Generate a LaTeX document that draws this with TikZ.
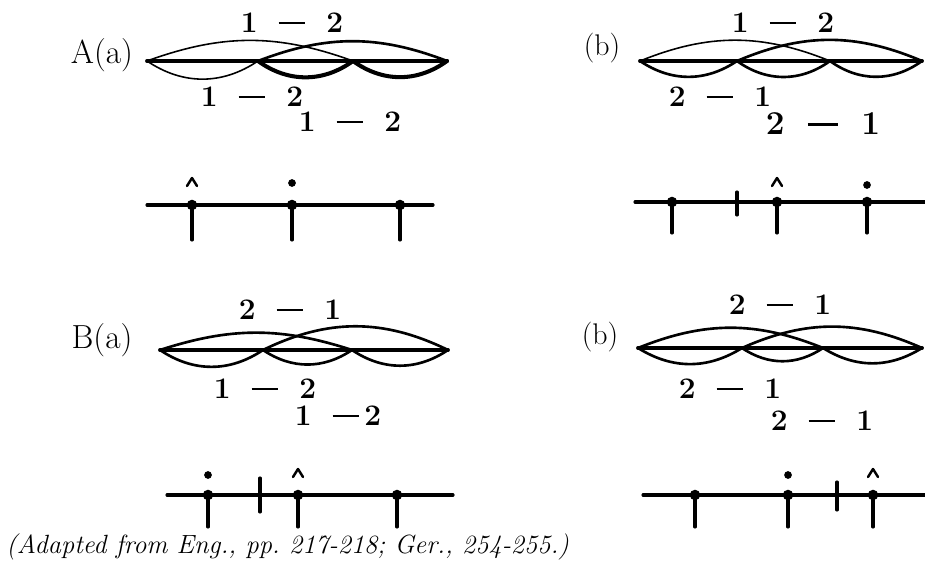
\documentclass[tikz,border=0pt]{standalone}
\usetikzlibrary{positioning}
\newcommand{\lnk}{\hspace{0.7em}\rule[0.28em]{0.9em}{1.6pt}\hspace{0.7em}}

\begin{document}
\begin{tikzpicture}[x=0.02cm, y=-0.02cm, line cap=round, line join=round, lbl/.style={font=\fontsize{17}{20}\selectfont\bfseries, inner sep=0pt}, stem/.style={line width=2.2pt}, lens/.style={line width=1.5pt}, thinlens/.style={line width=0.9pt}, thicklens/.style={line width=2.3pt}, tick/.style={line width=1.8pt}, knot/.style={circle, fill, inner sep=0pt, minimum size=6pt}, caret/.style={line width=1.4pt}]
\useasboundingbox (0,0) rectangle (925,570);
% A (a)
\node[lbl, font=\fontsize{19}{22}\selectfont] (tagAa) at (102,55) {A(a)};
\coordinate (aa1) at (147,61);\coordinate (aa2) at (258,61);\coordinate (aa3) at (353,61);\coordinate (aa4) at (447,61);
\draw[stem] (aa1) -- (aa4);
\draw[thinlens] (aa1) to[bend left=20] (aa3);\draw[lens] (aa2) to[bend left=21] (aa4);
\draw[thinlens] (aa1) to[bend right=34] (aa2);\draw[thicklens] (aa2) to[bend right=36] (aa3);\draw[thicklens] (aa3) to[bend right=36] (aa4);
\node[lbl] (topAa) at (292,23) {1\lnk2};
\node[lbl] (lowAa) at (252,97) {1\lnk2};
\node[lbl] (thrAa) at (350,122) {1\lnk2};
% A (b)
\node[lbl, font=\fontsize{17}{20}\selectfont] (tagAb) at (602,48) {(b)};
\coordinate (ab1) at (640,61);\coordinate (ab2) at (737,61);\coordinate (ab3) at (830,61);\coordinate (ab4) at (922,61);
\draw[stem] (ab1) -- (ab4);
\draw[thinlens] (ab1) to[bend left=22] (ab3);\draw[lens] (ab2) to[bend left=23] (ab4);
\draw[lens] (ab1) to[bend right=34] (ab2);\draw[lens] (ab2) to[bend right=36] (ab3);\draw[lens] (ab3) to[bend right=36] (ab4);
\node[lbl] (topAb) at (783,23) {1\lnk2};
\node[lbl] (lowAb) at (720,97) {2\lnk1};
\node[lbl, font=\fontsize{19}{22}\selectfont\bfseries] (thrAb) at (823,124) {2\lnk1};
% number lines A
\draw[tick] (147,205) -- (433,205);
\node[knot] (na1) at (192,205) {};\node[knot] (na2) at (292,205) {};\node[knot] (na3) at (400,205) {};
\draw[tick] (na1.center) -- ++(0,35);\draw[tick] (na2.center) -- ++(0,35);\draw[tick] (na3.center) -- ++(0,35);
\draw[caret] (187,186) -- (192,178) -- (197,186);\fill (292,183) circle (2.2pt);
\draw[tick] (635,202) -- (925,202);
\node[knot] (nb1) at (672,202) {};\node[knot] (nb2) at (777,202) {};\node[knot] (nb3) at (867,202) {};
\draw[tick] (nb1.center) -- ++(0,31);\draw[tick] (nb2.center) -- ++(0,31);\draw[tick] (nb3.center) -- ++(0,31);
\draw[tick] (737,192) -- (737,215);
\draw[caret] (772,186) -- (777,178) -- (782,186);\fill (867,185) circle (2.2pt);
% B (a)
\node[lbl, font=\fontsize{19}{22}\selectfont] (tagBa) at (102,340) {B(a)};
\coordinate (ba1) at (160,350);\coordinate (ba2) at (263,350);\coordinate (ba3) at (352,350);\coordinate (ba4) at (448,350);
\draw[stem] (ba1) -- (ba4);
\draw[lens] (ba1) to[bend left=18] (ba3);\draw[lens] (ba2) to[bend left=26] (ba4);
\draw[lens] (ba1) to[bend right=34] (ba2);\draw[lens] (ba2) to[bend right=34] (ba3);\draw[lens] (ba3) to[bend right=34] (ba4);
\node[lbl] (topBa) at (290,310) {2\lnk1};
\node[lbl] (lowBa) at (265,389) {1\lnk2};
\node[lbl] (thrBa) at (338,416) {1\hspace{0.7em}\rule[0.28em]{0.9em}{1.6pt}\,2};
% B (b)
\node[lbl, font=\fontsize{17}{20}\selectfont] (tagBb) at (600,337) {(b)};
\coordinate (bb1) at (638,348);\coordinate (bb2) at (742,348);\coordinate (bb3) at (823,348);\coordinate (bb4) at (922,348);
\draw[stem] (bb1) -- (bb4);
\draw[lens] (bb1) to[bend left=22] (bb3);\draw[lens] (bb2) to[bend left=24] (bb4);
\draw[lens] (bb1) to[bend right=32] (bb2);\draw[lens] (bb2) to[bend right=34] (bb3);\draw[lens] (bb3) to[bend right=32] (bb4);
\node[lbl] (topBb) at (780,305) {2\lnk1};
\node[lbl] (lowBb) at (730,389) {2\lnk1};
\node[lbl] (thrBb) at (822,421) {2\lnk1};
% number lines B
\draw[tick] (167,495) -- (453,495);
\node[knot] (nc1) at (208,495) {};\node[knot] (nc2) at (298,495) {};\node[knot] (nc3) at (397,495) {};
\draw[tick] (nc1.center) -- ++(0,32);\draw[tick] (nc2.center) -- ++(0,32);\draw[tick] (nc3.center) -- ++(0,32);
\draw[tick] (260,478) -- (260,512);
\fill (208,475) circle (2.2pt);\draw[caret] (293,477) -- (298,469) -- (303,477);
\draw[tick] (643,495) -- (925,495);
\node[knot] (nd1) at (695,495) {};\node[knot] (nd2) at (788,495) {};\node[knot] (nd3) at (873,495) {};
\draw[tick] (nd1.center) -- ++(0,32);\draw[tick] (nd2.center) -- ++(0,32);\draw[tick] (nd3.center) -- ++(0,32);
\draw[tick] (837,482) -- (837,510);
\fill (788,475) circle (2.2pt);\draw[caret] (868,477) -- (873,469) -- (878,477);
% source
\node[lbl, anchor=west, font=\fontsize{15}{18}\selectfont\itshape] (src) at (6,547) {(Adapted from Eng., pp.\ 217-218; Ger., 254-255.)};
\end{tikzpicture}
\end{document}
